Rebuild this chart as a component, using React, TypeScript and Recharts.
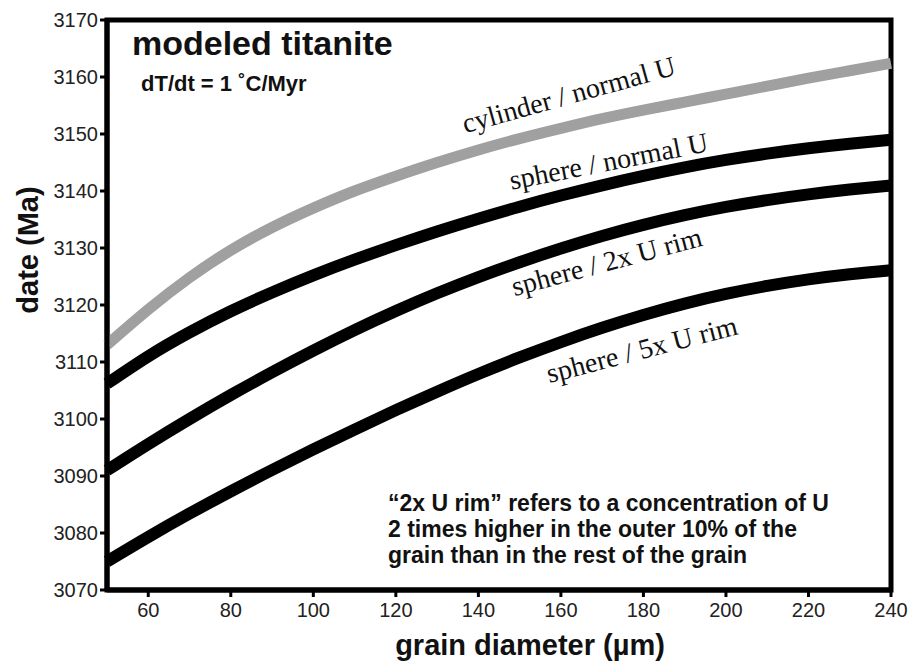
import React from 'react';
import { LineChart, Line, XAxis, YAxis, ReferenceArea, ReferenceDot } from 'recharts';

const grainDiameters = [50, 60, 70, 80, 90, 100, 110, 120, 130, 140, 150, 160, 170, 180, 190, 200, 210, 220, 230, 240];
const cylinderNormalU = [3113, 3119.2, 3124.8, 3129.6, 3133.6, 3137.0, 3140.0, 3142.6, 3145.0, 3147.2, 3149.2, 3151.0, 3152.7, 3154.2, 3155.6, 3157.0, 3158.4, 3159.8, 3161.1, 3162.4];
const sphereNormalU = [3106.2, 3111.0, 3115.2, 3118.9, 3122.2, 3125.2, 3127.95, 3130.5, 3132.9, 3135.15, 3137.25, 3139.2, 3141.0, 3142.65, 3144.15, 3145.45, 3146.55, 3147.5, 3148.3, 3149.0];
const sphere2xRim = [3091, 3095.6, 3100.0, 3104.2, 3108.2, 3112.0, 3115.6, 3118.95, 3122.05, 3124.9, 3127.5, 3129.9, 3132.1, 3134.05, 3135.75, 3137.2, 3138.4, 3139.4, 3140.25, 3140.95];
const sphere5xRim = [3075, 3079.3, 3083.4, 3087.3, 3091.05, 3094.65, 3098.15, 3101.55, 3104.8, 3107.9, 3110.8, 3113.5, 3116.0, 3118.25, 3120.25, 3121.95, 3123.35, 3124.5, 3125.4, 3126.1];

const xTicks = [60, 80, 100, 120, 140, 160, 180, 200, 220, 240];
const yTicks = [3070, 3080, 3090, 3100, 3110, 3120, 3130, 3140, 3150, 3160, 3170];

const curveLabels = [
  { text: 'cylinder / normal U', x: 162.5, y: 3155.3, angle: -15.5 },
  { text: 'sphere / normal U', x: 172, y: 3143.6, angle: -11 },
  { text: 'sphere / 2x U rim', x: 171.7, y: 3126.0, angle: -15 },
  { text: 'sphere / 5x U rim', x: 180.2, y: 3110.6, angle: -14.5 },
];

const noteLines = [
  '\u201C2x U rim\u201D refers to a concentration of U',
  '2 times higher in the outer 10% of the',
  'grain than in the rest of the grain',
];

const data = grainDiameters.map((g, i) => ({
  g,
  cyl: cylinderNormalU[i],
  sph: sphereNormalU[i],
  s2: sphere2xRim[i],
  s5: sphere5xRim[i],
}));

const SANS = '"Liberation Sans", Arial, Helvetica, sans-serif';
const SERIF = '"Liberation Serif", "Times New Roman", serif';

export default function App() {
  return (
    <div style={{ position: 'absolute', left: 0, top: 0, width: 916, height: 668, background: '#fff' }}>
      <LineChart width={916} height={668} data={data} margin={{ top: 20, right: 25, bottom: 0, left: 0 }}>
        <XAxis
          dataKey="g"
          type="number"
          domain={[50, 240]}
          ticks={xTicks}
          height={78}
          tickSize={7}
          tickMargin={6}
          stroke="#000"
          strokeWidth={5}
          tick={{ fill: '#222', fontSize: 20, fontFamily: SANS }}
          tickLine={{ stroke: '#000', strokeWidth: 3 }}
        />
        <YAxis
          type="number"
          domain={[3070, 3170]}
          ticks={yTicks}
          width={107}
          tickSize={7}
          tickMargin={2}
          stroke="#000"
          strokeWidth={5}
          tick={{ fill: '#222', fontSize: 20, fontFamily: SANS }}
          tickLine={{ stroke: '#000', strokeWidth: 3 }}
        />
        <ReferenceArea x1={50} x2={240} y1={3070} y2={3170} fill="none" stroke="#000" strokeWidth={5} />
        <Line dataKey="cyl" type="natural" stroke="#a0a0a0" strokeWidth={11} dot={false} isAnimationActive={false} />
        <Line dataKey="sph" type="natural" stroke="#000" strokeWidth={12} dot={false} isAnimationActive={false} />
        <Line dataKey="s2" type="natural" stroke="#000" strokeWidth={12} dot={false} isAnimationActive={false} />
        <Line dataKey="s5" type="natural" stroke="#000" strokeWidth={12} dot={false} isAnimationActive={false} />
        {curveLabels.map((l) => (
          <ReferenceDot
            key={l.text}
            x={l.x}
            y={l.y}
            r={0}
            fill="none"
            stroke="none"
            label={{
              content: (props: any) => {
                const vb = props.viewBox || {};
                const cx = vb.x + (vb.width || 0) / 2;
                const cy = vb.y + (vb.height || 0) / 2;
                return (
                  <text
                    x={cx}
                    y={cy}
                    textAnchor="middle"
                    fontFamily={SERIF}
                    fontSize={28}
                    fill="#111"
                    transform={`rotate(${l.angle} ${cx} ${cy})`}
                  >
                    {l.text}
                  </text>
                );
              },
            }}
          />
        ))}
      </LineChart>
      <svg width={916} height={668} style={{ position: 'absolute', left: 0, top: 0, pointerEvents: 'none' }}>
        <text x={132} y={55} fontFamily={SANS} fontWeight="bold" fontSize={34} fill="#111">modeled titanite</text>
        <text x={141} y={91} fontFamily={SANS} fontWeight="bold" fontSize={22} fill="#111">dT/dt = 1 {'\u02DA'}C/Myr</text>
        {noteLines.map((t, i) => (
          <text key={i} x={388} y={511 + i * 26} fontFamily={SANS} fontWeight="bold" fontSize={23} fill="#111">{t}</text>
        ))}
        <text x={530} y={655} textAnchor="middle" fontFamily={SANS} fontWeight="bold" fontSize={29} fill="#111">grain diameter ({'\u00B5'}m)</text>
        <text x={0} y={0} textAnchor="middle" fontFamily={SANS} fontWeight="bold" fontSize={29} fill="#111" transform="translate(38 250) rotate(-90)">date (Ma)</text>
      </svg>
    </div>
  );
}
